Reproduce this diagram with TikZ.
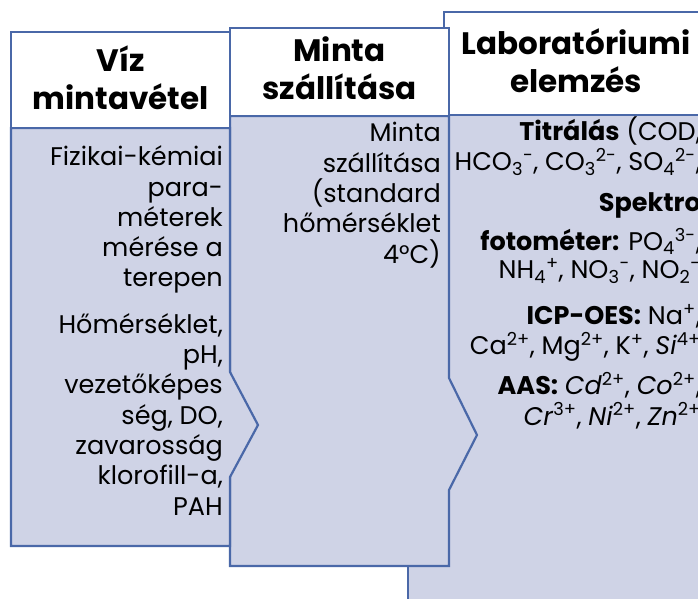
\documentclass[tikz,border=0pt]{standalone}
\usepackage{fontspec}
\setmainfont{Poppins}
\definecolor{keret}{HTML}{4A68A8}
\definecolor{kitolt}{HTML}{CFD3E6}
\tikzset{
  doboz/.style={draw=keret, line width=2.2pt, fill=kitolt, line join=miter},
  fejlec/.style={draw=keret, line width=2.2pt, fill=white},
  cim/.style={font=\fontsize{31}{38}\selectfont\bfseries, align=center, inner sep=0pt, anchor=base},
  szoveg/.style={font=\fontsize{25.5}{30.3}\selectfont, align=right, inner sep=0pt, anchor=base east},
}
\newcommand{\also}[1]{\textsubscript{#1}}
\newcommand{\felso}[1]{\textsuperscript{#1}}

\begin{document}
\begin{tikzpicture}[x=1pt,y=-1pt]
	\useasboundingbox (0,0) rectangle (698,599);
	\clip (0,0) rectangle (698,599);

	% Pontok
	\coordinate (C1a) at (230,372);
	\coordinate (C1) at (258,425);
	\coordinate (C1b) at (230,477);
	\coordinate (C2a) at (449,378);
	\coordinate (C2) at (477,435);
	\coordinate (C2b) at (449,490);

	% Laboratóriumi elemzés
	\draw[doboz] (408,115) rectangle (710,620);
	\draw[fejlec] (444,12) rectangle (710,115);

	% Minta szállítása
	\draw[doboz] (230,116) -- (449,116) -- (C2a) -- (C2) -- (C2b) -- (449,566) -- (230,566) -- cycle;
	\draw[fejlec] (230,28) rectangle (449,116);

	% Víz mintavétel
	\draw[doboz] (11,128) -- (230,128) -- (C1a) -- (C1) -- (C1b) -- (230,546) -- (11,546) -- cycle;
	\draw[fejlec] (11,32) rectangle (230,128);

	% Címek (az utolsó sor alapvonalán)
	\node[cim] (viz) at (120.5,110) {Víz\\mintavétel};
	\node[cim] (szall) at (339.5,100) {Minta\\szállítása};
	\node[cim] (labor) at (576,93) {Laboratóriumi\\elemzés};

	% Szövegek
	\node[szoveg] (vizt) at (223,515) {Fizikai-kémiai\\para-\\méterek\\mérése a\\terepen\\[16pt]
		Hőmérséklet,\\pH,\\vezetőképes\\ség, DO,\\zavarosság\\klorofill-a,\\PAH};
	\node[szoveg] (szallt) at (441,263) {Minta\\szállítása\\(standard\\hőmérséklet\\4°C)};
	\node[szoveg] (labort) at (701,425) {\textbf{Titrálás} (COD,\\
		HCO\also{3}\felso{-}, CO\also{3}\felso{2-}, SO\also{4}\felso{2-},\\[10pt]
		\textbf{Spektro}\\[9pt]
		\textbf{fotométer:} PO\also{4}\felso{3-},\\[-2pt]
		NH\also{4}\felso{+}, NO\also{3}\felso{-}, NO\also{2}\felso{-}\\[15pt]
		\textbf{ICP-OES:} Na\felso{+},\\
		Ca\felso{2+}, Mg\felso{2+}, K\felso{+}, \textit{Si}\felso{4+}\\[10pt]
		\textbf{AAS:} \textit{Cd}\felso{2+}, \textit{Co}\felso{2+},\\
		\textit{Cr}\felso{3+}, \textit{Ni}\felso{2+}, \textit{Zn}\felso{2+}};

\end{tikzpicture}
\end{document}
